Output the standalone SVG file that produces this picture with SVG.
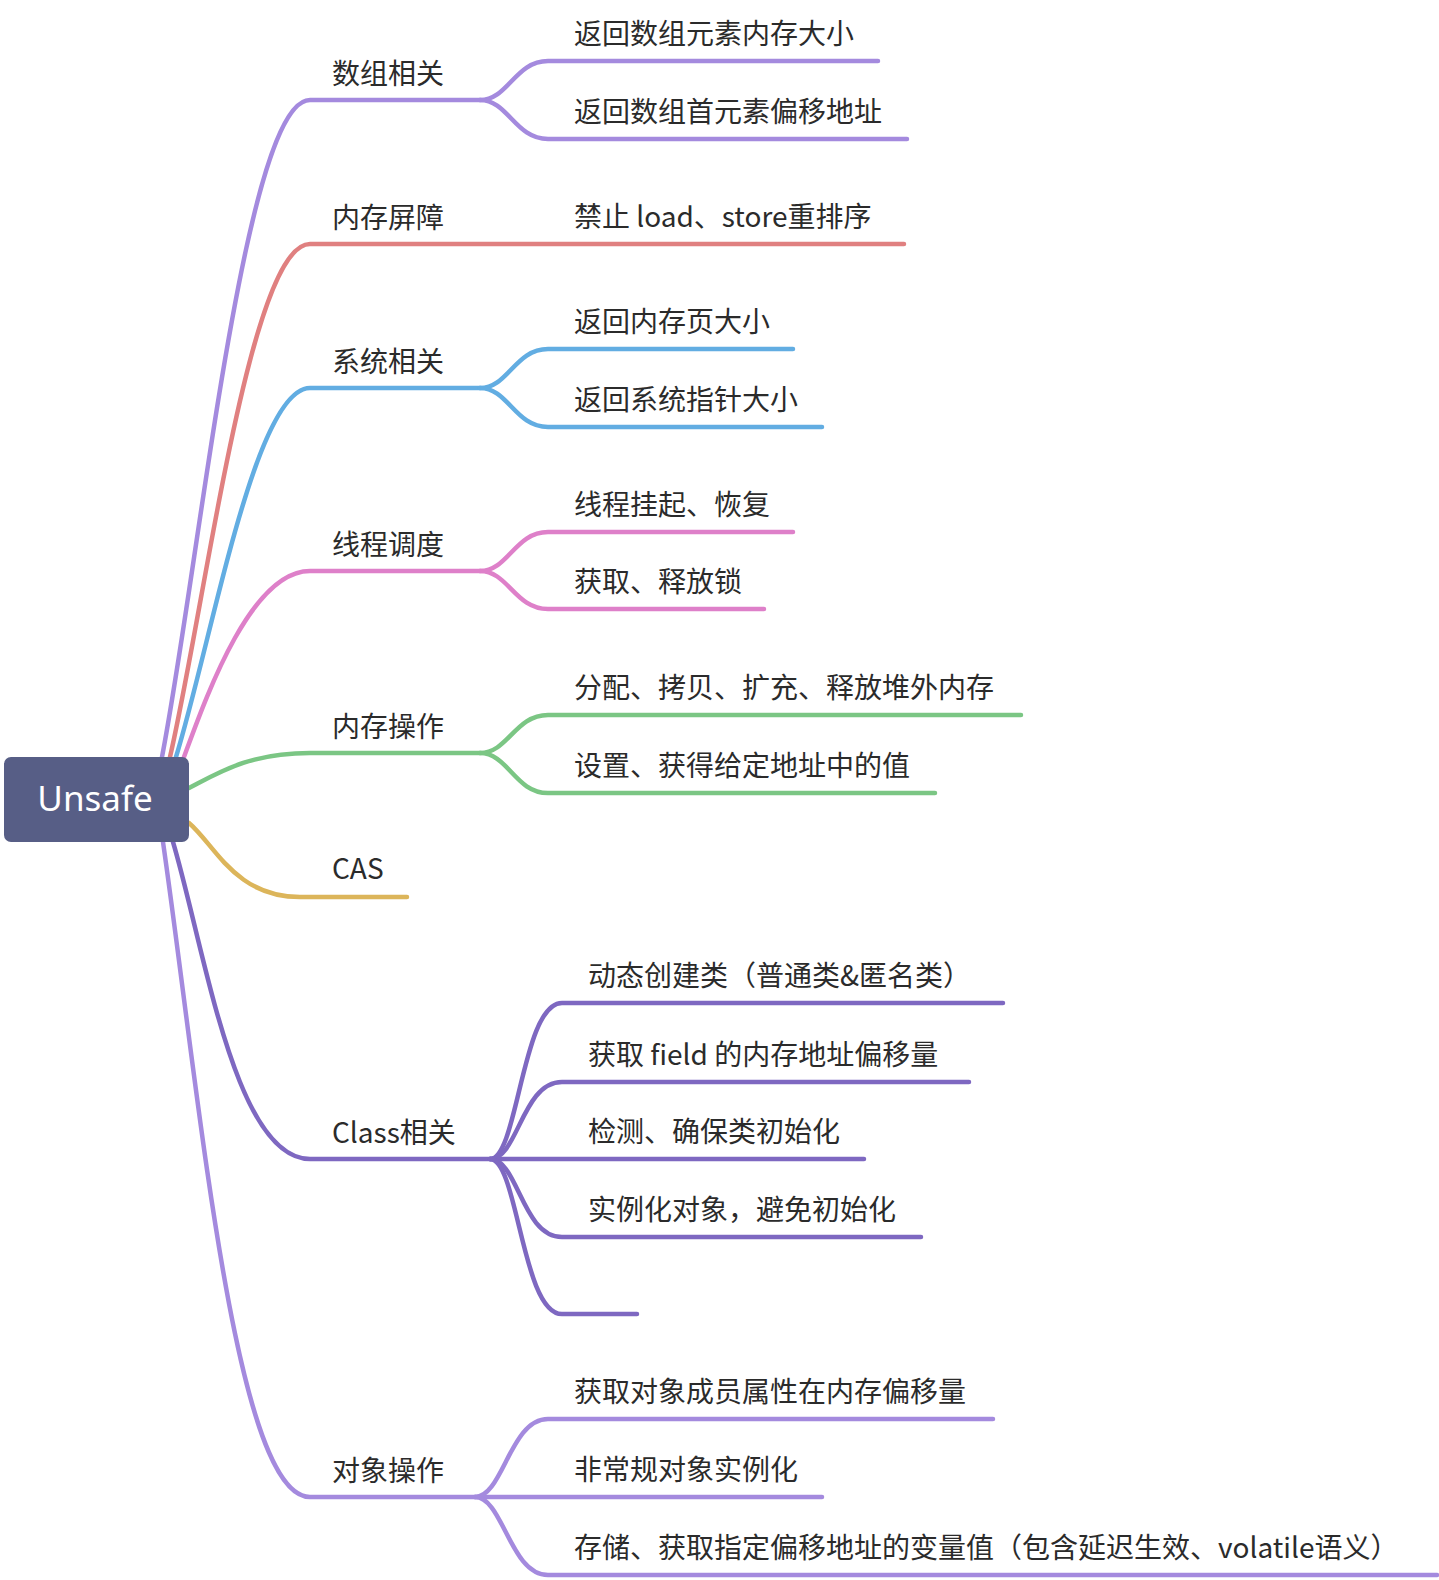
<svg xmlns="http://www.w3.org/2000/svg" width="1439" height="1580" viewBox="0 0 1439 1580">
<style>
.c{fill:none;stroke-width:4.5;stroke-linecap:round;stroke-linejoin:round}
.p{stroke:#a48ade}.r{stroke:#e08080}.b{stroke:#62ade2}.k{stroke:#de80c9}.g{stroke:#7bc684}.y{stroke:#dcb55a}.d{stroke:#7e68c1}
.t{font-family:"Noto Sans CJK SC","Noto Sans",sans-serif;font-size:28px;fill:#2b2b2b}
.root{font-family:"Noto Sans","Noto Sans CJK SC",sans-serif;font-size:35px;fill:#ffffff}
</style>
<rect width="1439" height="1580" fill="#ffffff"/>
<g id="connectors">
<path class="c p" d="M162 757 C200 560 245 100 310 100 L480 100"/>
<path class="c p" d="M480 100 C508 100 515 61 548 61 L878 61"/>
<path class="c p" d="M480 100 C508 100 515 139 548 139 L907 139"/>
<path class="c r" d="M170 757 C206 600 250 244 310 244 L904 244"/>
<path class="c b" d="M176 757 C212 640 255 388 310 388 L480 388"/>
<path class="c b" d="M480 388 C508 388 515 349 548 349 L793 349"/>
<path class="c b" d="M480 388 C508 388 515 427 548 427 L822 427"/>
<path class="c k" d="M184 757 C205 700 250 571 310 571 L480 571"/>
<path class="c k" d="M480 571 C508 571 515 532 548 532 L793 532"/>
<path class="c k" d="M480 571 C508 571 515 609 548 609 L764 609"/>
<path class="c g" d="M189 788 C220 772 250 753 310 753 L480 753"/>
<path class="c g" d="M480 753 C508 753 515 715 548 715 L1021 715"/>
<path class="c g" d="M480 753 C508 753 515 793 548 793 L935 793"/>
<path class="c y" d="M189 823 C215 845 235 897 300 897 L407 897"/>
<path class="c d" d="M173 842 C205 950 235 1159 310 1159 L490 1159"/>
<path class="c d" d="M490 1159 C518 1159 522 1003 562 1003 L1003 1003"/>
<path class="c d" d="M490 1159 C518 1159 522 1082 562 1082 L969 1082"/>
<path class="c d" d="M490 1159 L864 1159"/>
<path class="c d" d="M490 1159 C518 1159 522 1237 562 1237 L921 1237"/>
<path class="c d" d="M490 1159 C518 1159 522 1314 562 1314 L637 1314"/>
<path class="c p" d="M163 842 C200 1100 235 1497 310 1497 L475 1497"/>
<path class="c p" d="M475 1497 C503 1497 510 1419 548 1419 L993 1419"/>
<path class="c p" d="M475 1497 L822 1497"/>
<path class="c p" d="M475 1497 C503 1497 510 1575 548 1575 L1437 1575"/>
</g>
<g id="root">
<rect x="4" y="757" width="185" height="85" rx="7" fill="#575e86"/>
<text class="root" x="95" y="811" text-anchor="middle">Unsafe</text>
</g>
<g id="n-array"><text class="t" x="332" y="84">数组相关</text></g>
<g id="n-array-1"><text class="t" x="574" y="44">返回数组元素内存大小</text></g>
<g id="n-array-2"><text class="t" x="574" y="122">返回数组首元素偏移地址</text></g>
<g id="n-barrier"><text class="t" x="332" y="228">内存屏障</text></g>
<g id="n-barrier-1"><text class="t" x="574" y="227">禁止 load、store重排序</text></g>
<g id="n-sys"><text class="t" x="332" y="372">系统相关</text></g>
<g id="n-sys-1"><text class="t" x="574" y="332">返回内存页大小</text></g>
<g id="n-sys-2"><text class="t" x="574" y="410">返回系统指针大小</text></g>
<g id="n-thread"><text class="t" x="332" y="555">线程调度</text></g>
<g id="n-thread-1"><text class="t" x="574" y="515">线程挂起、恢复</text></g>
<g id="n-thread-2"><text class="t" x="574" y="592">获取、释放锁</text></g>
<g id="n-mem"><text class="t" x="332" y="737">内存操作</text></g>
<g id="n-mem-1"><text class="t" x="574" y="698">分配、拷贝、扩充、释放堆外内存</text></g>
<g id="n-mem-2"><text class="t" x="574" y="776">设置、获得给定地址中的值</text></g>
<g id="n-cas"><text class="t" x="332" y="879">CAS</text></g>
<g id="n-class"><text class="t" x="332" y="1143">Class相关</text></g>
<g id="n-class-1"><text class="t" x="588" y="986">动态创建类（普通类&amp;匿名类）</text></g>
<g id="n-class-2"><text class="t" x="588" y="1065">获取 field 的内存地址偏移量</text></g>
<g id="n-class-3"><text class="t" x="588" y="1142">检测、确保类初始化</text></g>
<g id="n-class-4"><text class="t" x="588" y="1220">实例化对象，避免初始化</text></g>
<g id="n-class-5"></g>
<g id="n-obj"><text class="t" x="332" y="1481">对象操作</text></g>
<g id="n-obj-1"><text class="t" x="574" y="1402">获取对象成员属性在内存偏移量</text></g>
<g id="n-obj-2"><text class="t" x="574" y="1480">非常规对象实例化</text></g>
<g id="n-obj-3"><text class="t" x="574" y="1558">存储、获取指定偏移地址的变量值（包含延迟生效、volatile语义）</text></g>
</svg>
